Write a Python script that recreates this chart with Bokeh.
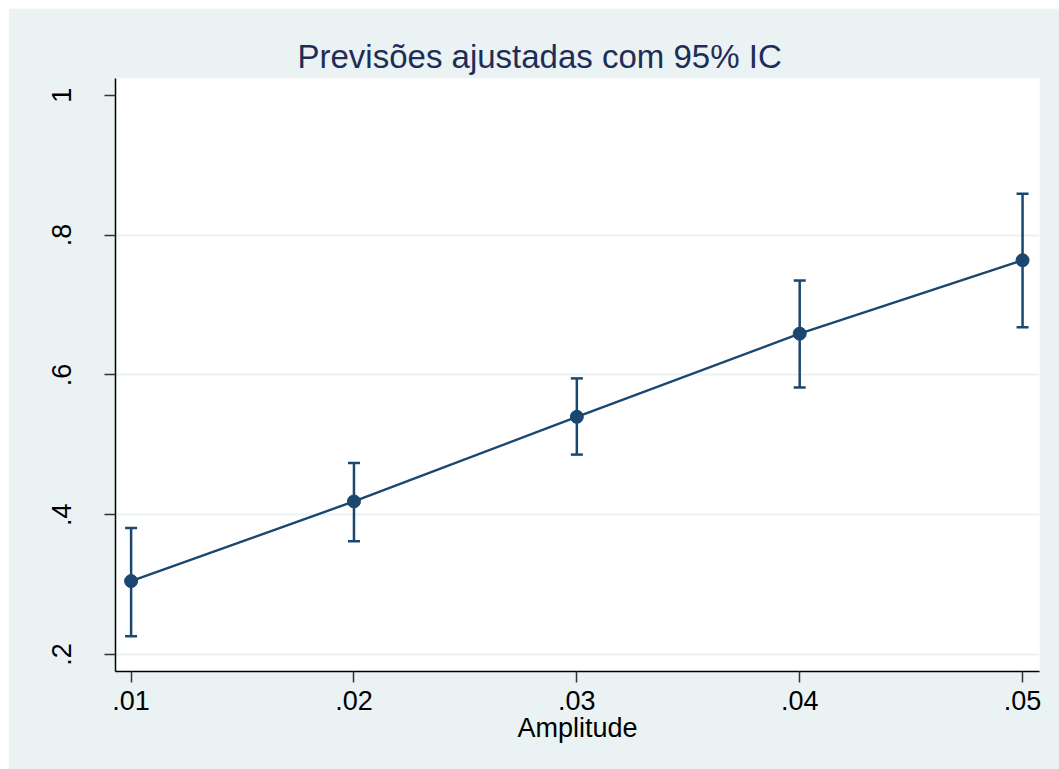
from bokeh.plotting import figure
from bokeh.models import Range1d, FixedTicker, Whisker, ColumnDataSource, TeeHead, Title
from bokeh.embed import file_html
from bokeh.resources import INLINE

# Data
amplitude = [0.01, 0.02, 0.03, 0.04, 0.05]
predicted = [0.305, 0.419, 0.540, 0.659, 0.764]
ci_lower = [0.226, 0.362, 0.486, 0.582, 0.668]
ci_upper = [0.381, 0.474, 0.595, 0.735, 0.859]

x_ticks = [0.01, 0.02, 0.03, 0.04, 0.05]
x_tick_labels = [".01", ".02", ".03", ".04", ".05"]
y_ticks = [0.2, 0.4, 0.6, 0.8, 1.0]
y_tick_labels = [".2", ".4", ".6", ".8", "1"]

title_text = "Previsões ajustadas com 95% IC"
x_label = "Amplitude"

BG = "#EAF2F3"
NAVY = "#1A476F"
FONT = "Liberation Sans"

p = figure(width=1051, height=761, output_backend="svg", toolbar_location=None,
           x_range=Range1d(0.0093, 0.05076), y_range=Range1d(0.1757, 1.024),
           min_border_left=107, min_border_right=20, min_border_top=70, min_border_bottom=98)
p.margin = (8, 0, 0, 8)
p.background_fill_color = "white"
p.border_fill_color = BG
p.outline_line_color = None

t = Title(text=title_text, align="left", offset=182, text_font=FONT,
          text_font_size="33px", text_font_style="normal", text_color="#1E2D58", standoff=7)
p.add_layout(t, "above")

src = ColumnDataSource(dict(x=amplitude, y=predicted, lo=ci_lower, hi=ci_upper))

w = Whisker(source=src, base="x", lower="lo", upper="hi", line_color=NAVY, line_width=2.5,
            upper_head=TeeHead(size=12, line_color=NAVY, line_width=2.5),
            lower_head=TeeHead(size=12, line_color=NAVY, line_width=2.5))
p.add_layout(w)
p.line("x", "y", source=src, line_color=NAVY, line_width=2.4)
p.scatter("x", "y", source=src, size=13, fill_color=NAVY, line_color=NAVY)

# axes
p.xaxis.ticker = FixedTicker(ticks=x_ticks)
p.xaxis.major_label_overrides = {t_: l for t_, l in zip(x_ticks, x_tick_labels)}
p.yaxis.ticker = FixedTicker(ticks=y_ticks)
p.yaxis.major_label_overrides = {t_: l for t_, l in zip(y_ticks, y_tick_labels)}
p.yaxis.major_label_orientation = "vertical"

for ax in (p.xaxis, p.yaxis):
    ax.axis_line_color = "black"
    ax.axis_line_width = 1.5
    ax.major_tick_line_color = "#333333"
    ax.major_tick_line_width = 1.5
    ax.major_tick_out = 11
    ax.major_tick_in = 0
    ax.minor_tick_line_color = None
    ax.major_label_text_font = FONT
    ax.major_label_text_font_size = "27px"
    ax.major_label_text_color = "black"

p.xaxis.major_label_standoff = 8
p.yaxis.major_label_standoff = 33
p.xaxis.axis_label = x_label
p.xaxis.axis_label_text_font = FONT
p.xaxis.axis_label_text_font_size = "27px"
p.xaxis.axis_label_text_font_style = "normal"
p.xaxis.axis_label_text_color = "black"
p.xaxis.axis_label_standoff = 0

p.xgrid.grid_line_color = None
p.ygrid.ticker = FixedTicker(ticks=[0.2, 0.4, 0.6, 0.8])
p.ygrid.grid_line_color = BG
p.ygrid.grid_line_width = 2

open("out.html", "w").write(file_html(p, INLINE))
